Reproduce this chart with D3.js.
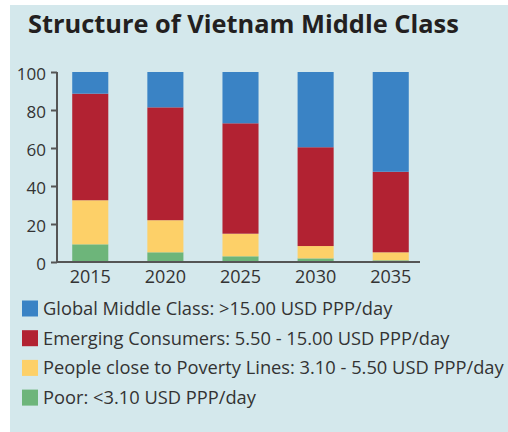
<!DOCTYPE html>
<html>
<head>
<meta charset="utf-8">
<script src="https://cdn.jsdelivr.net/npm/d3@7"></script>
<style>
  body { margin: 0; background: #fff; }
  svg { display: block; font-family: "Open Sans", sans-serif; }
</style>
</head>
<body>
<div id="container"></div>
<script>
// data (share of population, %)
let years = ["2015", "2020", "2025", "2030", "2035"];
let poor = [9.3, 5.1, 3.0, 1.9, 0.9];
let nearPoverty = [23.2, 16.9, 11.9, 6.5, 4.2];
let emerging = [56.1, 59.4, 58.1, 52.0, 42.4];
let globalMiddle = [11.4, 18.6, 27.0, 39.6, 52.5];
let yTicks = [0, 20, 40, 60, 80, 100];

let seriesKeys = ["poor", "near", "emerging", "global"];
let seriesColors = ["#6db57a", "#fdd068", "#b22232", "#3a83c5"];
let legendLabels = [
  "Global Middle Class: >15.00 USD PPP/day",
  "Emerging Consumers: 5.50 - 15.00 USD PPP/day",
  "People close to Poverty Lines: 3.10 - 5.50 USD PPP/day",
  "Poor: <3.10 USD PPP/day"
];
let legendColors = ["#3a83c5", "#b22232", "#fdd068", "#6db57a"];

let w = 508;
let h = 432;

let viz = d3.select("#container")
  .append("svg")
    .attr("width", w)
    .attr("height", h)
;

// panel background
viz.append("rect")
    .attr("x", 10)
    .attr("y", 5)
    .attr("width", w - 10)
    .attr("height", h - 5)
    .attr("fill", "#d4e8ec")
;

viz.append("text")
    .attr("x", 28)
    .attr("y", 33)
    .attr("font-size", 25.4)
    .attr("font-weight", "bold")
    .attr("fill", "#231f20")
    .text("Structure of Vietnam Middle Class")
;

// build table for the stack
let table = years.map(function(y, i){
  return {
    year: y,
    poor: poor[i],
    near: nearPoverty[i],
    emerging: emerging[i],
    global: globalMiddle[i]
  };
});
let stacked = d3.stack().keys(seriesKeys)(table);

let xScale = d3.scaleBand()
    .domain(years)
    .range([52.7, 428.3])
    .paddingInner(0.52)
    .paddingOuter(0.26)
;
let yScale = d3.scaleLinear().domain([0, 100]).range([262, 72]);

let layers = viz.selectAll(".layer")
  .data(stacked)
  .enter()
  .append("g")
    .attr("class", "layer")
    .attr("fill", function(d, i){ return seriesColors[i]; })
;
layers.selectAll("rect")
  .data(function(d){ return d; })
  .enter()
  .append("rect")
    .attr("x", function(d){ return xScale(d.data.year); })
    .attr("width", xScale.bandwidth())
    .attr("y", function(d){ return yScale(d[1]); })
    .attr("height", function(d){ return yScale(d[0]) - yScale(d[1]); })
;

// y axis
let yAxis = d3.axisLeft(yScale).tickValues(yTicks).tickSize(6).tickPadding(5);
let yAxisGroup = viz.append("g")
    .attr("transform", "translate(57,0)")
    .call(yAxis)
;
yAxisGroup.select(".domain")
    .attr("d", "M0," + yScale(100) + "V" + (yScale(0) + 1))
    .attr("stroke", "#555")
    .attr("stroke-width", 2)
;
yAxisGroup.selectAll(".tick line").attr("stroke", "#555").attr("stroke-width", 2);
yAxisGroup.selectAll(".tick text")
    .attr("font-size", 17)
    .attr("dy", "0.45em")
    .attr("fill", "#333")
    .attr("font-family", "Open Sans, sans-serif")
;

// x axis
let xAxis = d3.axisBottom(xScale).tickSize(0).tickPadding(8);
let xAxisGroup = viz.append("g")
    .attr("transform", "translate(0," + yScale(0) + ")")
    .call(xAxis)
;
xAxisGroup.select(".domain")
    .attr("d", "M56,0H420")
    .attr("stroke", "#555")
    .attr("stroke-width", 2)
;
xAxisGroup.selectAll(".tick text")
    .attr("font-size", 18)
    .attr("fill", "#333")
    .attr("font-family", "Open Sans, sans-serif")
;

// legend
let legend = viz.selectAll(".legend")
  .data(legendLabels)
  .enter()
  .append("g")
    .attr("class", "legend")
    .attr("transform", function(d, i){ return "translate(22," + (300.5 + i * 29.7) + ")"; })
;
legend.append("rect")
    .attr("width", 16)
    .attr("height", 16)
    .attr("fill", function(d, i){ return legendColors[i]; })
;
legend.append("text")
    .attr("x", 21)
    .attr("y", 14.5)
    .attr("font-size", 18.3)
    .attr("fill", "#333")
    .text(function(d){ return d; })
;
</script>
</body>
</html>
